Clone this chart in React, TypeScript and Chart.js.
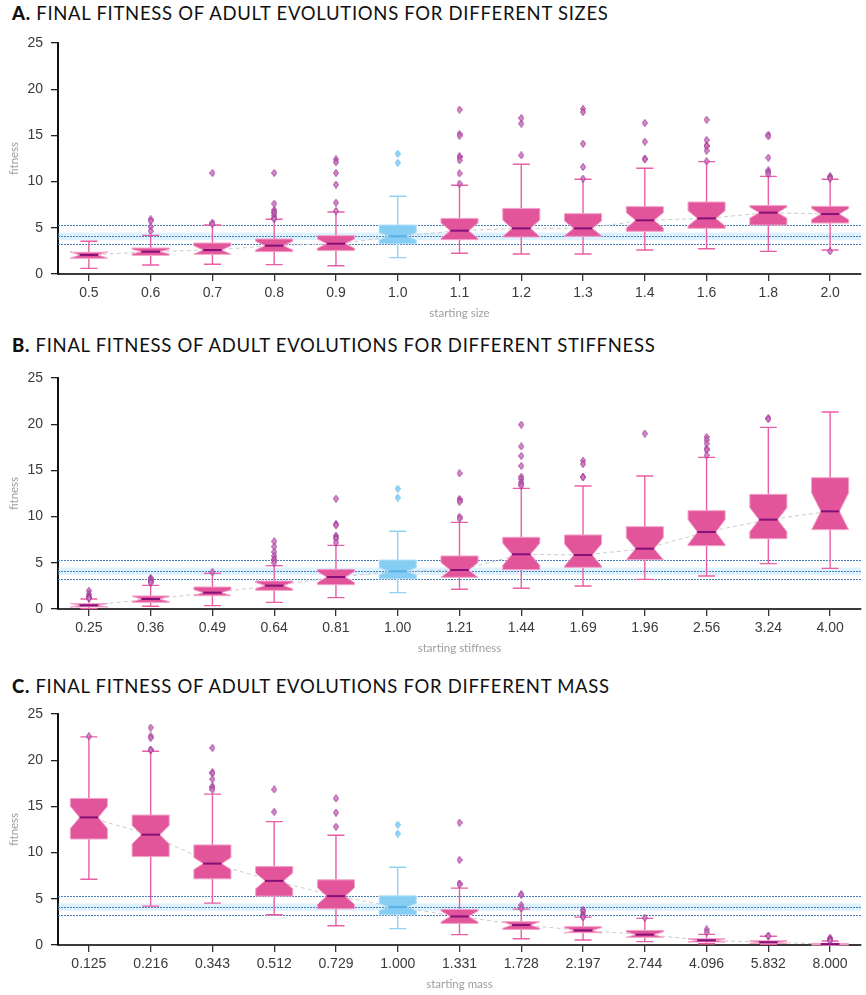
import React, { useEffect, useRef } from 'react';
import { Chart, registerables } from 'chart.js';
Chart.register(...registerables);

// ---------- Panel A: size ----------
const sizeLabels = ['0.5', '0.6', '0.7', '0.8', '0.9', '1.0', '1.1', '1.2', '1.3', '1.4', '1.6', '1.8', '2.0'];
const sizeQ1 = [1.7, 2.02, 2.13, 2.42, 2.53, 3.28, 3.72, 4.0, 4.08, 4.62, 4.94, 5.3, 5.52];
const sizeMed = [2.06, 2.42, 2.6, 3.07, 3.28, 4.08, 4.69, 4.94, 4.94, 5.81, 6.02, 6.64, 6.49];
const sizeQ3 = [2.35, 2.81, 3.35, 3.79, 4.15, 5.3, 6.02, 7.1, 6.53, 7.29, 7.79, 7.4, 7.32];
const sizeLo = [0.61, 0.97, 1.05, 1.01, 0.9, 1.77, 2.24, 2.16, 2.16, 2.6, 2.74, 2.45, 2.6];
const sizeHi = [3.54, 4.18, 5.3, 5.92, 6.71, 8.41, 9.6, 11.87, 10.25, 11.44, 12.16, 10.57, 10.25];
const sizeNotch = [0.35, 0.25, 0.45, 0.47, 0.5, 0.4, 0.85, 0.9, 0.8, 0.83, 0.83, 0.6, 0.6];
const sizeOutliers = [
  [],
  [5.92, 5.74, 5.12, 4.65],
  [10.93, 5.56, 5.41],
  [10.93, 7.61, 6.93, 6.71, 6.57, 6.31, 6.06, 5.95],
  [12.41, 12.09, 10.93, 9.67, 7.72, 6.82],
  [13.02, 12.05],
  [17.79, 15.15, 14.97, 12.73, 12.63, 12.3, 10.89, 9.78],
  [16.88, 16.27, 12.84],
  [17.86, 17.53, 14.1, 11.58, 10.32],
  [16.34, 14.32, 12.48, 12.41],
  [16.7, 14.5, 13.9, 13.85, 13.35, 12.19],
  [15.08, 14.9, 12.59, 11.22, 11.04, 10.79],
  [10.57, 10.5, 10.32, 2.45],
];

// ---------- Panel B: stiffness ----------
const stiffLabels = ['0.25', '0.36', '0.49', '0.64', '0.81', '1.00', '1.21', '1.44', '1.69', '1.96', '2.56', '3.24', '4.00'];
const stiffQ1 = [0.22, 0.72, 1.44, 2.02, 2.63, 3.28, 3.43, 4.26, 4.51, 5.34, 6.85, 7.61, 8.59];
const stiffMed = [0.4, 1.08, 1.77, 2.53, 3.46, 4.08, 4.22, 5.92, 5.84, 6.53, 8.33, 9.67, 10.57];
const stiffQ3 = [0.58, 1.41, 2.38, 3.03, 4.29, 5.3, 5.74, 7.76, 8.01, 8.91, 10.64, 12.41, 14.21];
const stiffLo = [0.04, 0.29, 0.36, 0.72, 1.23, 1.77, 2.13, 2.24, 2.49, 3.21, 3.57, 4.91, 4.4];
const stiffHi = [1.08, 2.56, 3.86, 4.69, 6.89, 8.41, 9.38, 13.06, 13.31, 14.39, 16.41, 19.66, 21.32];
const stiffNotch = [0.2, 0.3, 0.32, 0.35, 0.6, 0.4, 0.8, 1.2, 1.2, 1.2, 1.35, 1.3, 2.0];
const stiffOutliers = [
  [1.98, 1.62, 1.37, 1.3, 1.19, 1.15],
  [3.35, 3.2, 3.1, 2.92, 2.85],
  [4.0],
  [7.32, 6.75, 6.17, 5.74, 5.41, 5.27, 5.01],
  [11.94, 9.2, 9.05, 7.94, 7.76, 7.58, 7.18],
  [13.02, 12.05],
  [14.68, 11.9, 11.75, 11.6, 9.99, 9.78],
  [19.95, 17.6, 16.56, 15.48, 14.32, 14.07, 13.74, 13.49, 13.35],
  [16.05, 15.69, 14.3, 14.25],
  [18.98],
  [18.61, 18.29, 17.9, 17.35, 17.2, 16.63],
  [20.67, 20.56],
  [],
];

// ---------- Panel C: mass ----------
const massLabels = ['0.125', '0.216', '0.343', '0.512', '0.729', '1.000', '1.331', '1.728', '2.197', '2.744', '4.096', '5.832', '8.000'];
const massQ1 = [11.47, 9.57, 7.16, 5.29, 3.92, 3.28, 2.34, 1.69, 1.33, 0.83, 0.32, 0.18, 0.0];
const massMed = [13.81, 11.94, 8.81, 6.94, 5.29, 4.1, 3.09, 2.16, 1.58, 1.12, 0.5, 0.29, 0.1];
const massQ3 = [15.86, 14.06, 10.83, 8.49, 7.05, 5.32, 3.85, 2.52, 1.98, 1.58, 0.68, 0.47, 0.18];
const massLo = [7.12, 4.21, 4.53, 3.27, 2.09, 1.77, 1.12, 0.68, 0.54, 0.36, 0.14, 0.07, 0.0];
const massHi = [22.52, 20.97, 16.33, 13.35, 11.87, 8.41, 6.15, 3.88, 3.02, 2.88, 1.15, 0.94, 0.43];
const massNotch = [1.2, 1.0, 0.65, 0.85, 0.9, 0.4, 0.6, 0.35, 0.3, 0.3, 0.15, 0.12, 0.08];
const massOutliers = [
  [22.59],
  [23.53, 22.6, 22.4, 21.15, 21.1],
  [21.33, 18.67, 18.6, 17.95, 17.16, 17.05, 16.8],
  [16.83, 14.42],
  [15.86, 14.32, 12.81],
  [13.02, 12.05],
  [13.24, 9.21, 6.65, 6.55],
  [5.47, 5.45, 4.32, 3.96],
  [3.81, 3.6, 3.3, 3.09, 3.0],
  [2.95],
  [1.69, 1.37],
  [1.0, 0.98],
  [0.79, 0.65, 0.55, 0.45],
];

const yTicksMax = 25;
const yTickStep = 5;
const baselineIndex = 5;

type Panel = {
  letter: string;
  title: string;
  xTitle: string;
  labels: string[];
  q1: number[];
  med: number[];
  q3: number[];
  lo: number[];
  hi: number[];
  notch: number[];
  outliers: number[][];
};

const panels: Panel[] = [
  { letter: 'A.', title: 'FINAL FITNESS OF ADULT EVOLUTIONS FOR DIFFERENT SIZES', xTitle: 'starting size', labels: sizeLabels, q1: sizeQ1, med: sizeMed, q3: sizeQ3, lo: sizeLo, hi: sizeHi, notch: sizeNotch, outliers: sizeOutliers },
  { letter: 'B.', title: 'FINAL FITNESS OF ADULT EVOLUTIONS FOR DIFFERENT STIFFNESS', xTitle: 'starting stiffness', labels: stiffLabels, q1: stiffQ1, med: stiffMed, q3: stiffQ3, lo: stiffLo, hi: stiffHi, notch: stiffNotch, outliers: stiffOutliers },
  { letter: 'C.', title: 'FINAL FITNESS OF ADULT EVOLUTIONS FOR DIFFERENT MASS', xTitle: 'starting mass', labels: massLabels, q1: massQ1, med: massMed, q3: massQ3, lo: massLo, hi: massHi, notch: massNotch, outliers: massOutliers },
];

const PINK = { fill: '#e3559b', edge: '#f3a2c9', median: '#86107a', whisker: '#ea5ea5' };
const BLUE = { fill: '#86cdf3', edge: '#b2dff8', median: '#5aaee3', whisker: '#8fd2f6' };

function makeDiamond(fill: string, stroke: string) {
  const c = document.createElement('canvas');
  c.width = 6;
  c.height = 8;
  const g = c.getContext('2d')!;
  g.beginPath();
  g.moveTo(3, 0.5);
  g.lineTo(5.5, 4);
  g.lineTo(3, 7.5);
  g.lineTo(0.5, 4);
  g.closePath();
  g.fillStyle = fill;
  g.fill();
  g.strokeStyle = stroke;
  g.lineWidth = 1;
  g.stroke();
  return c;
}

function makeBoxPlugin(p: Panel) {
  return {
    id: 'notchedBoxes' + p.letter,
    beforeDatasetsDraw(chart: any) {
      const { ctx, chartArea: a } = chart;
      const y = chart.scales.y;
      ctx.save();
      const bTop = y.getPixelForValue(p.med[baselineIndex] + p.notch[baselineIndex]);
      const bBot = y.getPixelForValue(p.med[baselineIndex] - p.notch[baselineIndex]);
      ctx.fillStyle = 'rgba(135,206,250,0.28)';
      ctx.fillRect(a.left, bTop, a.right - a.left, bBot - bTop);
      ctx.strokeStyle = '#4a80b8';
      ctx.lineWidth = 1;
      ctx.setLineDash([2, 1]);
      for (const v of [p.q3[baselineIndex], p.med[baselineIndex], p.q1[baselineIndex]]) {
        const yy = Math.round(y.getPixelForValue(v)) + 0.5;
        ctx.beginPath();
        ctx.moveTo(a.left, yy);
        ctx.lineTo(a.right, yy);
        ctx.stroke();
      }
      ctx.restore();
    },
    afterDatasetDraw(chart: any, args: any) {
      if (args.index !== 0) return;
      const { ctx } = chart;
      const x = chart.scales.x;
      const y = chart.scales.y;
      const cat = x.width / p.labels.length;
      const w = cat * 0.6;
      ctx.save();
      p.labels.forEach((_, i) => {
        const c = x.getPixelForValue(i);
        const col = i === baselineIndex ? BLUE : PINK;
        const left = c - w / 2;
        const right = c + w / 2;
        const yq1 = y.getPixelForValue(p.q1[i]);
        const yq3 = y.getPixelForValue(p.q3[i]);
        const ym = y.getPixelForValue(p.med[i]);
        const ynh = y.getPixelForValue(p.med[i] + p.notch[i]);
        const ynl = y.getPixelForValue(p.med[i] - p.notch[i]);
        const ylo = y.getPixelForValue(p.lo[i]);
        const yhi = y.getPixelForValue(p.hi[i]);
        // whiskers
        ctx.strokeStyle = col.whisker;
        ctx.lineWidth = 1.4;
        ctx.beginPath();
        ctx.moveTo(c, yq3);
        ctx.lineTo(c, yhi);
        ctx.moveTo(c, yq1);
        ctx.lineTo(c, ylo);
        ctx.moveTo(c - w * 0.23, yhi);
        ctx.lineTo(c + w * 0.23, yhi);
        ctx.moveTo(c - w * 0.23, ylo);
        ctx.lineTo(c + w * 0.23, ylo);
        ctx.stroke();
        // notched box
        ctx.beginPath();
        ctx.moveTo(left, yq1);
        ctx.lineTo(left, ynl);
        ctx.lineTo(left + w / 4, ym);
        ctx.lineTo(left, ynh);
        ctx.lineTo(left, yq3);
        ctx.lineTo(right, yq3);
        ctx.lineTo(right, ynh);
        ctx.lineTo(right - w / 4, ym);
        ctx.lineTo(right, ynl);
        ctx.lineTo(right, yq1);
        ctx.closePath();
        ctx.fillStyle = col.fill;
        ctx.fill();
        ctx.strokeStyle = col.edge;
        ctx.lineWidth = 1;
        ctx.stroke();
        // median
        ctx.strokeStyle = col.median;
        ctx.lineWidth = 2;
        ctx.beginPath();
        ctx.moveTo(left + w / 4, ym);
        ctx.lineTo(right - w / 4, ym);
        ctx.stroke();
      });
      ctx.restore();
    },
  };
}

function BoxChart({ p, top, titleTop }: { p: Panel; top: number; titleTop: number }) {
  const ref = useRef<HTMLCanvasElement>(null);
  useEffect(() => {
    if (!ref.current) return;
    const pinkPts: any[] = [];
    const bluePts: any[] = [];
    p.outliers.forEach((arr, i) => {
      arr.forEach((v) => {
        (i === baselineIndex ? bluePts : pinkPts).push({ x: p.labels[i], y: v });
      });
    });
    const pinkDiamond = makeDiamond('rgba(210,120,200,0.85)', 'rgba(150,50,140,0.85)');
    const blueDiamond = makeDiamond('rgba(150,210,245,0.95)', 'rgba(110,190,235,1)');
    const chart = new Chart(ref.current, {
      type: 'line',
      data: {
        labels: p.labels,
        datasets: [
          {
            data: p.med,
            borderColor: '#cccccc',
            borderWidth: 1,
            borderDash: [4, 3],
            pointRadius: 0,
            fill: false,
            order: 3,
          } as any,
          {
            data: pinkPts,
            showLine: false,
            pointStyle: pinkDiamond,
            pointRadius: 4,
            order: 1,
          },
          {
            data: bluePts,
            showLine: false,
            pointStyle: blueDiamond,
            pointRadius: 4,
            order: 2,
          },
        ],
      },
      plugins: [makeBoxPlugin(p)],
      options: {
        animation: false,
        responsive: false,
        events: [],
        layout: { padding: { top: 19, left: 0, right: 0, bottom: 0 } },
        plugins: { legend: { display: false }, tooltip: { enabled: false } },
        scales: {
          x: {
            type: 'category',
            offset: true,
            grid: { display: true, drawOnChartArea: false, drawTicks: true, tickLength: 7, color: '#333', lineWidth: 1.3, offset: false },
            border: { display: true, color: '#3a3a3a', width: 2 },
            ticks: { padding: 4, color: '#3a3a3a', font: { family: 'Liberation Sans', size: 14 }, maxRotation: 0, autoSkip: false },
            title: { display: true, text: p.xTitle, color: '#9e9e9e', font: { family: 'Lato', size: 11.5 }, padding: { top: 0, bottom: 4 } },
            afterFit: (s: any) => { s.height = 50; },
          },
          y: {
            min: 0,
            max: yTicksMax,
            ticks: { stepSize: yTickStep, padding: 8, color: '#3a3a3a', font: { family: 'Liberation Sans', size: 14 } },
            grid: { display: true, drawOnChartArea: false, drawTicks: true, tickLength: 7, color: '#222', lineWidth: 1.3 },
            border: { display: true, color: '#111', width: 2 },
            title: { display: true, text: 'fitness', color: '#a0a0a0', font: { family: 'Lato', size: 11.5 }, padding: { top: 7, bottom: 0 } },
            afterFit: (s: any) => { s.width = 58; },
          },
        },
      } as any,
    });
    return () => chart.destroy();
  }, [p]);
  return (
    <>
      <div
        style={{
          position: 'absolute',
          left: 12,
          top: titleTop,
          fontFamily: 'Lato, sans-serif',
          fontSize: 18.5,
          letterSpacing: 0.7,
          lineHeight: '22px',
          color: '#111',
          whiteSpace: 'nowrap',
        }}
      >
        <span style={{ fontWeight: 900 }}>{p.letter}</span> {p.title}
      </div>
      <canvas ref={ref} width={866} height={300} style={{ position: 'absolute', left: 0, top: top + 24, width: 866, height: 300 }} />
    </>
  );
}

export default function App() {
  return (
    <div style={{ position: 'fixed', left: 0, top: 0, width: 866, height: 995, background: '#fff', overflow: 'hidden' }}>
      <BoxChart p={panels[0]} top={0} titleTop={2} />
      <BoxChart p={panels[1]} top={335} titleTop={334} />
      <BoxChart p={panels[2]} top={671} titleTop={675} />
    </div>
  );
}
